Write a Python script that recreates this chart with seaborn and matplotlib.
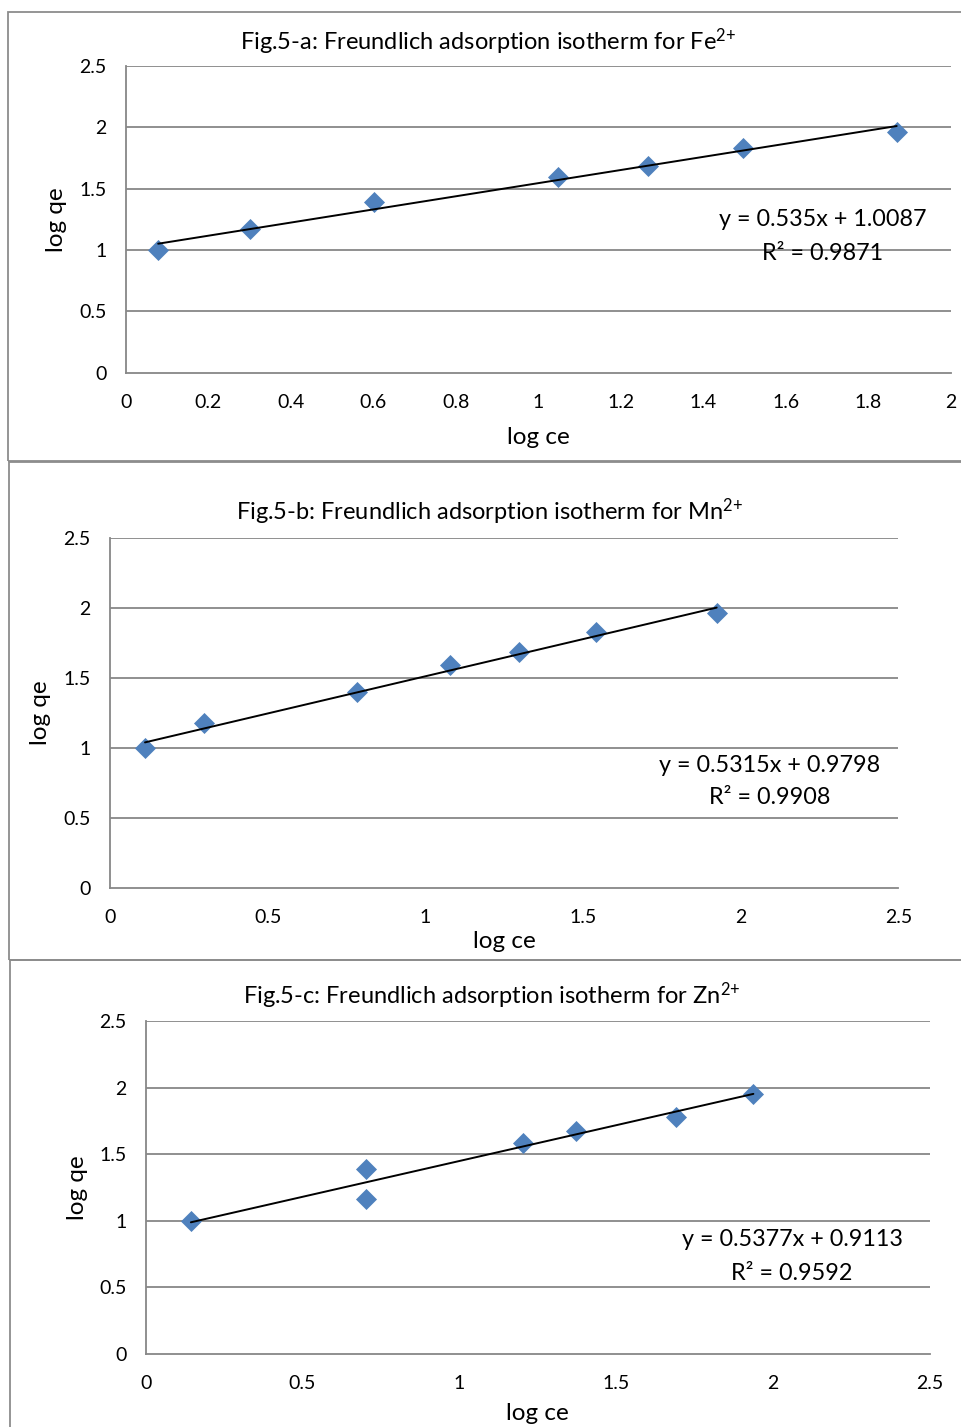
import numpy as np
import pandas as pd
import matplotlib
matplotlib.use("Agg")
import matplotlib.pyplot as plt
from matplotlib.patches import Rectangle
import seaborn as sns

# ---------------- data ----------------
fe_log_ce = [0.078, 0.301, 0.602, 1.048, 1.267, 1.497, 1.869]
fe_log_qe = [1.000, 1.170, 1.390, 1.596, 1.683, 1.827, 1.963]
mn_log_ce = [0.111, 0.298, 0.782, 1.078, 1.298, 1.541, 1.924]
mn_log_qe = [1.000, 1.175, 1.397, 1.592, 1.687, 1.826, 1.961]
zn_log_ce = [0.144, 0.701, 0.701, 1.202, 1.371, 1.690, 1.937]
zn_log_qe = [0.998, 1.389, 1.161, 1.582, 1.676, 1.782, 1.952]

slopes = [0.535, 0.5315, 0.5377]
intercepts = [1.0087, 0.9798, 0.9113]
slope_text = ["0.535", "0.5315", "0.5377"]
intercept_text = ["1.0087", "0.9798", "0.9113"]
r_squared = ["0.9871", "0.9908", "0.9592"]
ions = ["Fe", "Mn", "Zn"]
panel_ids = ["a", "b", "c"]
x_ticks_list = [[0, 0.2, 0.4, 0.6, 0.8, 1, 1.2, 1.4, 1.6, 1.8, 2],
                [0, 0.5, 1, 1.5, 2, 2.5],
                [0, 0.5, 1, 1.5, 2, 2.5]]
y_ticks = [0, 0.5, 1, 1.5, 2, 2.5]
x_label = "log ce"
y_label = "log qe"

xs = [fe_log_ce, mn_log_ce, zn_log_ce]
ys = [fe_log_qe, mn_log_qe, zn_log_qe]

# ---------------- style ----------------
sns.set_theme(style="white")
FONT = ["Lato", "DejaVu Sans"]
plt.rcParams["font.family"] = FONT
plt.rcParams["mathtext.fontset"] = "custom"
plt.rcParams["mathtext.rm"] = "Lato"
plt.rcParams["mathtext.it"] = "Lato:italic"

GRID = "#878787"
BLUE = "#4F81BD"
W, H = 962, 1427

fig = plt.figure(figsize=(W / 100, H / 100), dpi=100)
fig.patch.set_facecolor("white")

# axes rectangles in pixels: left, top, right, bottom
ax_px = [(126, 65.7, 950.7, 372.7),
         (110, 538, 898.3, 887.7),
         (145.7, 1021, 930, 1354)]
title_px = [(488, 42), (490, 512), (492, 996)]
ylabel_px = [56, 40, 77]
xlabel_py = [438, 941, 1413]
eq_px = [(823, 220, 253), (770, 766, 798), (792, 1239, 1273)]
frame_px = [(8, 12, 975, 461), (9.3, 461.7, 975, 960), (9.7, 960, 975, 1440)]

# panel frames
for (l, t, r, b) in frame_px:
    fig.patches.append(Rectangle((l / W, 1 - b / H), (r - l) / W, (b - t) / H,
                                 transform=fig.transFigure, fill=False,
                                 edgecolor="#8c8c8c", linewidth=1.3, zorder=0))

for i in range(3):
    l, t, r, b = ax_px[i]
    ax = fig.add_axes([l / W, 1 - b / H, (r - l) / W, (b - t) / H])
    ax.set_facecolor("white")
    aw, ah = r - l, b - t

    x_ticks = x_ticks_list[i]
    ax.set_xlim(x_ticks[0], x_ticks[-1])
    ax.set_ylim(y_ticks[0], y_ticks[-1])

    # horizontal gridlines
    for yv in y_ticks[1:]:
        ax.axhline(yv, color=GRID, linewidth=1.3, zorder=1)

    df = pd.DataFrame({"log ce": xs[i], "log qe": ys[i]})
    sns.scatterplot(data=df, x="log ce", y="log qe", marker="D", s=115,
                    color=BLUE, edgecolor=BLUE, linewidth=0, ax=ax, zorder=3,
                    clip_on=False)

    x0, x1 = min(xs[i]), max(xs[i])
    line_df = pd.DataFrame({"x": [x0, x1],
                            "y": [slopes[i] * x0 + intercepts[i],
                                  slopes[i] * x1 + intercepts[i]]})
    sns.lineplot(data=line_df, x="x", y="y", color="black", linewidth=1.4,
                 ax=ax, zorder=4)

    ax.set_xticks(x_ticks)
    ax.set_xticklabels([f"{v:g}" for v in x_ticks])
    ax.set_yticks(y_ticks)
    ax.set_yticklabels([f"{v:g}" for v in y_ticks])
    ax.tick_params(axis="both", which="major", labelsize=14, colors="black",
                   length=6, width=1.3, direction="out", pad=8)
    ax.tick_params(axis="both", color=GRID)
    ax.tick_params(axis="x", pad=9)

    for side in ["top", "right"]:
        ax.spines[side].set_visible(False)
    for side in ["left", "bottom"]:
        ax.spines[side].set_color(GRID)
        ax.spines[side].set_linewidth(1.3)

    ax.set_xlabel(x_label, fontsize=17.5, color="black")
    ax.set_ylabel(y_label, fontsize=17.5, color="black")
    ax.xaxis.set_label_coords(0.5, (b - xlabel_py[i]) / ah)
    ax.xaxis.label.set_va("center")
    ax.yaxis.set_label_coords((ylabel_px[i] - l) / aw, 0.5)
    ax.yaxis.label.set_va("center")

    tx, ty = title_px[i]
    ax.set_title(f"Fig.5-{panel_ids[i]}: Freundlich adsorption isotherm for "
                 f"{ions[i]}$^{{\\mathregular{{2{{+}}}}}}$",
                 x=(tx - l) / aw, y=(b - ty) / ah, va="center", ha="center",
                 fontsize=17, color="black", pad=0)

    ex, ey1, ey2 = eq_px[i]
    ax.text((ex - l) / aw, (b - ey1) / ah,
            f"y = {slope_text[i]}x + {intercept_text[i]}",
            transform=ax.transAxes, ha="center", va="center", fontsize=16.8,
            color="black", zorder=5)
    ax.text((ex - l) / aw, (b - ey2) / ah, f"R² = {r_squared[i]}",
            transform=ax.transAxes, ha="center", va="center", fontsize=16.8,
            color="black", zorder=5)

fig.savefig("out.png", dpi=100, facecolor="white")
